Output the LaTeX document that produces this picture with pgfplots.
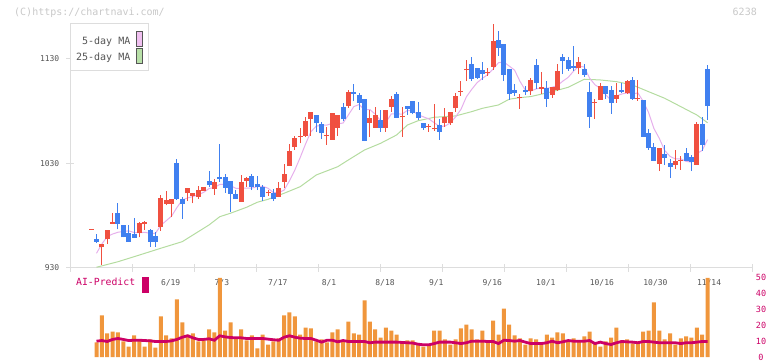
\documentclass[border=0pt]{standalone}
\usepackage{pgfplots}
\pgfplotsset{compat=1.18}
\usepackage{pgfplotstable}
\usepackage{fontspec}
\newfontfamily\mono{DejaVu Sans Mono}
\definecolor{upred}{HTML}{F05040}
\definecolor{dnblue}{HTML}{4080F0}
\definecolor{mafive}{HTML}{E6B0EC}
\definecolor{matf}{HTML}{B4DCA0}
\definecolor{volor}{HTML}{F0963C}
\definecolor{aicol}{HTML}{CC0066}
\definecolor{axgray}{HTML}{DDDDDD}
\definecolor{txtgray}{HTML}{555555}
\definecolor{wmgray}{HTML}{C8C8C8}
\definecolor{pinkfill}{HTML}{F0C0F0}
\definecolor{greenfill}{HTML}{B8E0A8}

\pgfplotstableread{
i O H L C
-1 966.4 967.4 966.4 967.4
0 957.8 962.5 954.2 955.1
1 950.4 953.0 932.9 953.0
2 957.5 966.4 953.0 966.4
3 972.4 982.9 972.4 974.0
4 982.6 992.2 967.0 972.4
5 971.2 971.2 959.4 959.4
6 963.8 971.2 955.2 955.2
7 962.3 978.1 959.0 959.0
8 963.8 974.0 959.4 972.8
9 971.8 975.0 966.4 974.0
10 966.4 967.6 950.4 955.2
11 960.6 964.7 950.4 954.9
12 969.5 999.6 965.7 997.0
13 991.5 1004.0 990.0 995.1
14 991.5 996.0 979.1 996.0
15 1030.5 1034.3 995.1 996.0
16 996.0 997.9 977.2 991.5
17 1001.5 1006.6 994.1 1006.6
18 998.9 1001.8 991.9 1001.8
19 997.7 1008.5 996.0 1004.6
20 1004.0 1007.5 1004.0 1007.5
21 1013.3 1022.8 1007.5 1009.7
22 1005.9 1015.5 1000.1 1012.3
23 1017.1 1048.7 1012.3 1015.2
24 1017.1 1019.9 1001.8 1006.6
25 1013.3 1013.3 983.6 1000.8
26 1000.8 1004.6 996.0 996.0
27 993.2 1019.0 993.2 1012.3
28 1013.3 1017.1 1007.8 1016.1
29 1018.0 1019.9 1004.6 1007.5
30 1010.4 1018.0 1004.6 1007.5
31 1007.5 1009.4 994.1 997.7
32 1001.5 1004.6 998.9 1002.5
33 1001.8 1005.3 994.1 996.0
34 997.9 1012.3 997.9 1006.6
35 1012.3 1029.5 1006.6 1019.9
36 1027.6 1048.7 1027.6 1042.0
37 1046.1 1056.6 1042.9 1054.1
38 1055.1 1063.7 1049.3 1056.1
39 1056.6 1074.8 1055.6 1070.7
40 1072.6 1079.5 1056.6 1079.0
41 1076.7 1076.7 1060.4 1068.5
42 1067.5 1069.4 1053.2 1058.9
43 1056.1 1065.2 1047.7 1057.1
44 1052.5 1078.3 1052.5 1078.3
45 1064.3 1076.7 1056.3 1076.7
46 1083.8 1088.2 1070.7 1072.3
47 1085.0 1100.3 1083.1 1098.1
48 1098.1 1106.1 1089.5 1096.5
49 1095.6 1097.5 1081.2 1088.2
50 1091.7 1091.7 1051.5 1051.5
51 1069.0 1081.2 1055.6 1073.6
52 1064.3 1084.1 1064.3 1076.4
53 1071.6 1081.2 1060.4 1064.3
54 1064.3 1081.2 1060.4 1081.2
55 1084.1 1094.6 1079.6 1091.7
56 1096.5 1098.7 1073.3 1073.8
57 1074.2 1084.4 1055.6 1075.2
58 1085.0 1085.0 1076.4 1082.2
59 1089.8 1089.8 1077.1 1078.0
60 1079.6 1088.6 1071.6 1073.8
61 1068.5 1068.5 1062.1 1063.7
62 1064.7 1067.5 1060.4 1065.7
63 1062.7 1087.0 1061.1 1063.7
64 1066.9 1072.6 1052.5 1060.4
65 1068.5 1083.4 1065.2 1074.8
66 1068.5 1079.6 1066.9 1079.6
67 1082.8 1097.2 1079.6 1094.6
68 1098.4 1108.9 1094.6 1099.4
69 1119.0 1129.0 1108.9 1120.0
70 1125.2 1131.9 1108.9 1110.9
71 1121.4 1121.4 1110.9 1111.8
72 1119.5 1127.1 1109.9 1115.6
73 1116.1 1121.4 1113.7 1117.1
74 1122.6 1163.5 1119.5 1147.2
75 1148.2 1156.8 1132.9 1140.5
76 1144.4 1144.4 1108.9 1114.7
77 1120.4 1120.4 1090.8 1096.5
78 1100.3 1106.1 1094.6 1097.5
79 1092.7 1096.5 1082.2 1093.7
80 1100.3 1104.2 1095.6 1098.4
81 1099.4 1111.8 1095.6 1109.9
82 1124.3 1130.0 1101.3 1107.0
83 1101.7 1117.6 1096.5 1102.7
84 1102.3 1108.9 1084.1 1091.7
85 1095.6 1103.2 1092.7 1103.2
86 1100.3 1125.2 1099.4 1118.5
87 1131.9 1134.8 1115.6 1128.1
88 1129.0 1131.9 1118.5 1120.4
89 1123.3 1142.4 1118.5 1121.4
90 1121.4 1131.9 1115.6 1127.1
91 1120.4 1125.2 1112.8 1114.7
92 1098.4 1108.0 1064.0 1074.5
93 1087.9 1091.7 1072.6 1088.9
94 1090.8 1107.0 1090.8 1104.2
95 1104.2 1104.2 1091.7 1096.5
96 1100.3 1104.2 1077.4 1087.9
97 1091.7 1107.0 1087.9 1095.6
98 1100.3 1107.0 1097.5 1098.4
99 1097.5 1109.9 1096.5 1108.9
100 1109.9 1112.8 1090.8 1091.7
101 1091.7 1109.9 1089.8 1092.7
102 1090.8 1090.8 1055.4 1055.4
103 1059.2 1063.0 1042.9 1044.8
104 1045.8 1049.6 1032.4 1032.4
105 1029.5 1044.8 1022.8 1044.8
106 1039.1 1047.7 1028.6 1035.3
107 1030.5 1034.3 1016.1 1026.7
108 1028.6 1042.9 1024.7 1032.4
109 1032.4 1037.2 1023.8 1033.4
110 1040.1 1044.8 1032.4 1032.4
111 1036.2 1038.1 1022.8 1031.4
112 1028.6 1069.7 1028.6 1067.8
113 1067.8 1074.5 1042.0 1047.7
114 1120.4 1124.3 1071.6 1085.0
}\candles

\pgfplotstableread{
i m
0 944.1
1 953.0
2 960.0
3 962.5
4 964.2
5 965.0
6 965.5
7 964.0
8 963.8
9 964.1
10 963.2
11 963.2
12 970.8
13 975.2
14 979.6
15 987.8
16 995.1
17 997.0
18 998.4
19 1000.1
20 1002.4
21 1006.0
22 1007.2
23 1009.9
24 1010.3
25 1008.9
26 1006.2
27 1006.2
28 1006.4
29 1006.5
30 1007.9
31 1008.2
32 1006.3
33 1002.2
34 1002.1
35 1004.5
36 1013.4
37 1023.7
38 1035.7
39 1048.6
40 1060.4
41 1065.7
42 1066.6
43 1066.8
44 1068.4
45 1067.9
46 1068.7
47 1076.5
48 1084.4
49 1086.4
50 1081.3
51 1081.6
52 1077.2
53 1070.8
54 1069.4
55 1077.4
56 1077.5
57 1077.2
58 1080.8
59 1080.2
60 1076.6
61 1074.6
62 1072.7
63 1069.0
64 1065.5
65 1065.7
66 1068.8
67 1074.6
68 1081.8
69 1093.7
70 1100.9
71 1107.3
72 1111.5
73 1115.1
74 1120.5
75 1126.4
76 1127.0
77 1123.2
78 1119.3
79 1108.6
80 1100.2
81 1099.2
82 1101.3
83 1102.3
84 1101.9
85 1102.9
86 1104.6
87 1108.8
88 1112.4
89 1118.3
90 1123.1
91 1122.3
92 1111.6
93 1105.3
94 1101.9
95 1095.8
96 1090.4
97 1094.6
98 1096.5
99 1097.5
100 1096.5
101 1097.5
102 1089.4
103 1078.7
104 1063.4
105 1054.0
106 1042.5
107 1036.8
108 1034.3
109 1034.5
110 1032.0
111 1031.3
112 1039.5
113 1042.5
114 1052.9
}\mafivetab

\pgfplotstableread{
i m
0 930.7
4 936.0
8 942.4
12 948.9
16 955.2
18 961.6
21 971.2
23 979.1
25 982.4
28 988.1
30 992.9
32 995.7
35 1001.5
38 1007.8
41 1019.0
45 1026.9
47 1033.4
50 1042.9
53 1049.3
56 1057.3
58 1066.8
60 1070.9
63 1074.2
67 1075.5
70 1079.6
72 1082.8
75 1086.0
77 1091.5
79 1093.0
81 1094.0
85 1098.7
88 1102.9
91 1110.6
94 1109.9
97 1108.3
100 1105.1
103 1098.7
106 1092.4
109 1084.4
112 1076.4
114 1069.0
}\matftab

\pgfplotstableread{
i v a
0 9.3 10.1
1 26.3 10.5
2 15.0 9.9
3 16.2 11.2
4 15.6 11.8
5 9.9 11.2
6 6.7 10.5
7 13.7 10.7
8 11.2 10.7
9 6.7 10.5
10 11.2 10.3
11 6.1 9.9
12 25.7 9.9
13 13.7 9.9
14 11.8 10.3
15 36.4 11.2
16 21.9 12.6
17 14.3 13.5
18 15.0 12.2
19 9.9 11.2
20 10.6 11.2
21 17.5 11.6
22 15.6 10.7
23 50.0 13.5
24 16.8 12.8
25 21.9 12.4
26 11.8 12.2
27 17.5 12.2
28 10.6 11.8
29 13.7 11.8
30 5.5 11.8
31 14.3 11.8
32 8.0 11.4
33 9.9 11.0
34 11.8 10.7
35 26.3 12.6
36 28.2 13.5
37 25.7 12.6
38 14.3 12.0
39 18.7 11.8
40 18.1 11.8
41 9.9 10.7
42 11.2 9.5
43 9.3 10.7
44 15.6 10.7
45 17.5 9.7
46 10.6 10.5
47 22.5 9.9
48 15.0 9.9
49 14.3 9.9
50 35.8 9.9
51 22.5 9.1
52 17.5 9.5
53 12.4 9.5
54 18.7 9.5
55 16.8 9.5
56 14.3 9.5
57 9.9 9.3
58 10.6 9.1
59 10.6 8.9
60 8.7 8.2
61 6.7 7.8
62 7.4 7.8
63 16.8 8.6
64 16.8 9.5
65 11.2 9.5
66 8.0 9.5
67 11.2 9.1
68 18.1 8.6
69 20.6 9.1
70 17.5 10.1
71 11.2 10.1
72 16.8 10.1
73 9.3 9.9
74 23.1 9.9
75 14.3 8.6
76 30.7 10.7
77 20.6 10.5
78 13.7 10.1
79 11.8 10.5
80 8.0 9.5
81 11.8 8.6
82 11.2 8.6
83 8.7 8.6
84 14.3 9.1
85 12.4 10.1
86 15.6 9.1
87 15.0 9.7
88 9.9 10.5
89 11.8 10.1
90 10.6 10.1
91 13.1 10.1
92 16.2 10.5
93 9.3 8.6
94 6.7 9.5
95 9.9 8.6
96 12.4 8.0
97 18.7 9.1
98 10.6 9.9
99 11.2 9.7
100 8.7 9.5
101 9.9 9.1
102 16.2 9.9
103 16.8 9.9
104 34.5 9.5
105 16.8 9.1
106 11.2 9.1
107 15.0 9.1
108 8.0 9.1
109 11.8 8.6
110 13.1 9.1
111 12.4 9.1
112 18.7 9.5
113 14.3 9.9
114 50.0 9.9
}\voltab

\begin{document}
\begin{tikzpicture}[x=1pt,y=1pt]
\path[use as bounding box] (0,0) rectangle (772,361);
\begin{axis}[
  at={(70pt,93pt)}, anchor=south west, scale only axis,
  width=682pt, height=243pt,
  xmin=-4.944, xmax=122.293, ymin=930, ymax=1162.5, clip=false,
  axis x line*=bottom, axis y line*=left,
  axis line style={draw=axgray, line width=1pt, -},
  xtick={-4.944,6.623,18.190,29.757,41.324,52.891,64.458,76.025,87.592,99.159,110.726,122.293},
  xticklabels={},
  extra x ticks={12,22,32,42,52,62,72,82,92,102,112},
  extra x tick labels={6/19,7/3,7/17,8/1,8/18,9/1,9/16,10/1,10/16,10/30,11/14},
  extra x tick style={major tick length=0pt, tick label style={anchor=north west, inner sep=0pt, yshift=-11pt}},
  ytick={930,1030,1130},
  tick style={draw=axgray, line width=1pt},
  major tick length=8pt, tick align=center,
  ticklabel style={font=\mono\fontsize{8}{9}\selectfont, text=txtgray},
  yticklabel style={anchor=east, inner sep=0pt, xshift=-6.5pt},
  /pgf/number format/assume math mode=true,
  /pgf/number format/1000 sep={},
  candle/.style={draw=none, mark=none, forget plot,
    error bars/y dir=plus, error bars/y explicit, error bars/error mark=none},
]
\addplot[matf, line width=1pt] table[x=i, y=m] \matftab;
\addplot[mafive, line width=1pt] table[x=i, y=m] \mafivetab;
% wicks
\addplot[candle,
  restrict expr to domain={\thisrow{C}-\thisrow{O}}{0.01:1000},
  error bars/error bar style={draw=upred, line width=1pt}]
  table[x=i, y=L, y error expr=\thisrow{H}-\thisrow{L}] \candles;
\addplot[candle,
  restrict expr to domain={\thisrow{O}-\thisrow{C}}{0.01:1000},
  error bars/error bar style={draw=dnblue, line width=1pt}]
  table[x=i, y=L, y error expr=\thisrow{H}-\thisrow{L}] \candles;
% bodies
\addplot[candle,
  restrict expr to domain={\thisrow{C}-\thisrow{O}}{0.01:1000},
  error bars/error bar style={draw=upred, line width=5pt}]
  table[x=i, y=O, y error expr=\thisrow{C}-\thisrow{O}] \candles;
\addplot[candle,
  restrict expr to domain={\thisrow{O}-\thisrow{C}}{0.01:1000},
  error bars/error bar style={draw=dnblue, line width=5pt}]
  table[x=i, y=C, y error expr=\thisrow{O}-\thisrow{C}] \candles;
\end{axis}

\begin{axis}[
  at={(70pt,3.8pt)}, anchor=south west, scale only axis,
  width=682pt, height=79.3pt,
  xmin=-4.944, xmax=122.293, ymin=0, ymax=50, clip=false,
  axis x line=none, axis y line*=right,
  y axis line style={draw=none},
  ytick={0,10,20,30,40,50}, major tick length=0pt,
  yticklabel style={font=\mono\fontsize{8.5}{10}\selectfont, text=aicol, anchor=center, inner sep=0pt, xshift=9pt},
  /pgf/number format/assume math mode=true,
]
\addplot[ybar, bar width=4pt, fill=volor, draw=none] table[x=i, y=v] \voltab;
\addplot[aicol, line width=2.8pt] table[x=i, y=a] \voltab;
\end{axis}

% legend
\draw[axgray, fill=white, line width=1pt] (70.3,290) rectangle (148.3,337);
\node[anchor=east, inner sep=0pt, font=\mono\fontsize{10}{12}\selectfont, text=txtgray] at (130.5,319.3) {5-day MA};
\node[anchor=east, inner sep=0pt, font=\mono\fontsize{10}{12}\selectfont, text=txtgray] at (130.5,303.7) {25-day MA};
\draw[fill=pinkfill, draw=txtgray, line width=0.8pt] (136,315) rectangle (142.7,330);
\draw[fill=greenfill, draw=txtgray, line width=0.8pt] (136,298) rectangle (142.7,313);
% watermark & code
\node[anchor=west, inner sep=0pt, font=\mono\fontsize{10}{12}\selectfont, text=wmgray] at (14,348.5) {(C)https://chartnavi.com/};
\node[anchor=east, inner sep=0pt, font=\mono\fontsize{10}{12}\selectfont, text=wmgray] at (757,349) {6238};
% AI-Predict label
\node[anchor=west, inner sep=0pt, font=\mono\fontsize{9.8}{11}\selectfont, text=aicol] at (76,79) {AI-Predict};
\fill[aicol] (142,68) rectangle (149,84);
\end{tikzpicture}
\end{document}
